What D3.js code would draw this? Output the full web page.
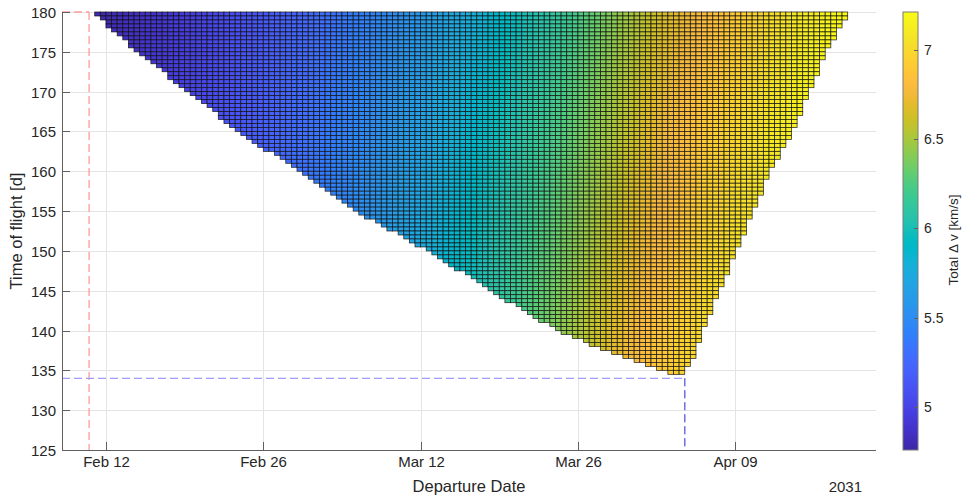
<!DOCTYPE html>
<html>
<head>
<meta charset="utf-8">
<script src="https://cdn.jsdelivr.net/npm/d3@7"></script>
<style>
  body { margin: 0; background: #fff; }
  text { font-family: "Liberation Sans", Arial, Helvetica, sans-serif; fill: #262626; }
</style>
</head>
<body>
<svg id="chart" width="963" height="499"></svg>
<script>
// ---- axes ----
const xDomain = ["2031-02-08T02:10", "2031-04-21T12:30"];
const xTickDates = ["2031-02-12", "2031-02-26", "2031-03-12", "2031-03-26", "2031-04-09"];
const xTickLabels = ["Feb 12", "Feb 26", "Mar 12", "Mar 26", "Apr 09"];
const yDomain = [125, 180];
const yTicks = [125, 130, 135, 140, 145, 150, 155, 160, 165, 170, 175, 180];
const cbDomain = [4.76, 7.21];
const cbTicks = [5, 5.5, 6, 6.5, 7];

// ---- porkchop grid: half-day departure steps, half-day time-of-flight steps ----
const gridStepDays = 0.5;
const tofTop = 180;
const tofBottom = 134.5;

// feasible window per row (keyed by the row's upper time of flight):
// first departure (cell start) and last departure (cell end)
const edgeTof   = [180, 175, 170, 165, 160, 155, 150, 145, 140, 137.5, 135];
const edgeFirst = ["2031-02-11T00", "2031-02-15T00", "2031-02-19T12", "2031-02-24T00", "2031-03-01T12",
                   "2031-03-06T12", "2031-03-13T00", "2031-03-18T12", "2031-03-24T12", "2031-03-29T00", "2031-04-03T00"];
const edgeLast  = ["2031-04-19T00", "2031-04-17T00", "2031-04-15T12", "2031-04-14T00", "2031-04-12T00",
                   "2031-04-10T12", "2031-04-09T00", "2031-04-07T12", "2031-04-06T00", "2031-04-05T12", "2031-04-04T12"];

// total delta-v [km/s] sampled over departure date (columns) and time of flight (rows)
const dvDeparture = ["2031-02-11", "2031-02-18", "2031-02-25", "2031-03-04", "2031-03-11", "2031-03-18", "2031-03-25",
                     "2031-03-29", "2031-04-02", "2031-04-06", "2031-04-10", "2031-04-14", "2031-04-19"];
const dvTof = [180, 165, 150, 135];
const dvTof180 = [4.78, 4.93, 5.12, 5.32, 5.55, 5.84, 6.17, 6.40, 6.62, 6.80, 6.93, 7.08, 7.21];
const dvTof165 = [4.82, 4.98, 5.17, 5.38, 5.62, 5.93, 6.28, 6.50, 6.72, 6.88, 7.01, 7.14, 7.22];
const dvTof150 = [4.86, 5.02, 5.22, 5.44, 5.70, 6.02, 6.38, 6.60, 6.80, 6.96, 7.08, 7.18, 7.22];
const dvTof135 = [4.90, 5.06, 5.27, 5.50, 5.78, 6.12, 6.48, 6.70, 6.88, 7.02, 7.14, 7.20, 7.22];

// guide lines to the two marked solutions
const markRed  = { dep: "2031-02-10T12", tof: 180 };
const markBlue = { dep: "2031-04-04T12", tof: 134 };

// parula colormap (64 entries)
const parula = [
[0.2422,0.1504,0.6603],[0.2504,0.1650,0.7076],[0.2578,0.1818,0.7511],[0.2647,0.1978,0.7952],
[0.2706,0.2147,0.8364],[0.2751,0.2342,0.8710],[0.2783,0.2559,0.8991],[0.2803,0.2782,0.9221],
[0.2813,0.3006,0.9414],[0.2810,0.3228,0.9579],[0.2795,0.3447,0.9717],[0.2760,0.3667,0.9829],
[0.2699,0.3892,0.9906],[0.2602,0.4123,0.9952],[0.2440,0.4358,0.9988],[0.2206,0.4603,0.9973],
[0.1963,0.4847,0.9892],[0.1834,0.5074,0.9798],[0.1786,0.5289,0.9682],[0.1764,0.5499,0.9520],
[0.1687,0.5703,0.9359],[0.1540,0.5902,0.9218],[0.1460,0.6091,0.9079],[0.1380,0.6276,0.8973],
[0.1248,0.6459,0.8883],[0.1113,0.6635,0.8763],[0.0952,0.6798,0.8598],[0.0689,0.6948,0.8394],
[0.0297,0.7082,0.8163],[0.0036,0.7203,0.7917],[0.0067,0.7312,0.7660],[0.0433,0.7411,0.7394],
[0.0964,0.7500,0.7120],[0.1408,0.7584,0.6842],[0.1717,0.7670,0.6554],[0.1938,0.7758,0.6251],
[0.2161,0.7843,0.5923],[0.2470,0.7918,0.5567],[0.2906,0.7973,0.5188],[0.3406,0.8008,0.4789],
[0.3909,0.8029,0.4354],[0.4456,0.8024,0.3909],[0.5044,0.7993,0.3480],[0.5616,0.7942,0.3045],
[0.6174,0.7876,0.2612],[0.6720,0.7793,0.2227],[0.7242,0.7698,0.1910],[0.7738,0.7598,0.1646],
[0.8203,0.7498,0.1535],[0.8634,0.7406,0.1596],[0.9035,0.7330,0.1774],[0.9393,0.7288,0.2100],
[0.9728,0.7298,0.2394],[0.9956,0.7434,0.2371],[0.9970,0.7659,0.2199],[0.9952,0.7893,0.2028],
[0.9892,0.8136,0.1885],[0.9786,0.8386,0.1766],[0.9676,0.8639,0.1643],[0.9610,0.8890,0.1537],
[0.9597,0.9135,0.1423],[0.9628,0.9373,0.1265],[0.9691,0.9606,0.1064],[0.9769,0.9839,0.0805]];

// ---- setup ----
const parseT = d3.utcParse("%Y-%m-%dT%H:%M");
const parseH = d3.utcParse("%Y-%m-%dT%H");
const parseD = d3.utcParse("%Y-%m-%d");
const toDate = s => parseT(s) || parseH(s) || parseD(s);
const DAY = 864e5;

const m = { left: 62, right: 876, top: 12, bottom: 450 };
const svg = d3.select("#chart");

const x = d3.scaleUtc().domain(xDomain.map(toDate)).range([m.left, m.right]);
const y = d3.scaleLinear().domain(yDomain).range([m.bottom, m.top]);

const parulaColors = parula.map(c => d3.rgb(c[0] * 255, c[1] * 255, c[2] * 255));
const color = d3.scaleLinear()
  .domain(parulaColors.map((_, i) => cbDomain[0] + (cbDomain[1] - cbDomain[0]) * i / (parulaColors.length - 1)))
  .range(parulaColors)
  .interpolate(d3.interpolateRgb)
  .clamp(true);

// ---- grid lines ----
const grid = svg.append("g").attr("stroke", "#e4e4e4").attr("stroke-width", 1);
xTickDates.forEach(d => {
  const px = Math.round(x(toDate(d))) + 0.5;
  grid.append("line").attr("x1", px).attr("x2", px).attr("y1", m.top).attr("y2", m.bottom);
});
yTicks.forEach(v => {
  const py = Math.round(y(v)) + 0.5;
  grid.append("line").attr("x1", m.left).attr("x2", m.right).attr("y1", py).attr("y2", py);
});

// ---- cells ----
const edgeFirstAt = d3.scaleLinear().domain(edgeTof).range(edgeFirst.map(s => +toDate(s)));
const edgeLastAt = d3.scaleLinear().domain(edgeTof).range(edgeLast.map(s => +toDate(s)));

const dvRows = [dvTof180, dvTof165, dvTof150, dvTof135];
const dvDepMs = dvDeparture.map(s => +toDate(s));
const colIdx = d3.scaleLinear().domain(dvDepMs).range(dvDepMs.map((_, i) => i)).clamp(true);
const rowIdx = d3.scaleLinear().domain(dvTof).range(dvTof.map((_, i) => i)).clamp(true);
function dvAt(ms, tof) {
  const ci = colIdx(ms), ri = rowIdx(tof);
  const c0 = Math.min(Math.floor(ci), dvDepMs.length - 2), r0 = Math.min(Math.floor(ri), dvTof.length - 2);
  const fc = ci - c0, fr = ri - r0;
  const a = dvRows[r0][c0] * (1 - fc) + dvRows[r0][c0 + 1] * fc;
  const b = dvRows[r0 + 1][c0] * (1 - fc) + dvRows[r0 + 1][c0 + 1] * fc;
  return a * (1 - fr) + b * fr;
}

const stepMs = gridStepDays * DAY;
const cells = [];
for (let tof = tofTop; tof > tofBottom + 1e-9; tof -= gridStepDays) {
  const lower = tof - gridStepDays;
  const first = Math.round(edgeFirstAt(tof) / stepMs) * stepMs;
  const last = Math.round(edgeLastAt(tof) / stepMs) * stepMs;
  for (let t = first; t < last - 1; t += stepMs) {
    cells.push({ t0: t, t1: t + stepMs, y0: lower, y1: tof, dv: dvAt(t + stepMs / 2, tof - gridStepDays / 2) });
  }
}

svg.append("g")
  .selectAll("rect")
  .data(cells)
  .join("rect")
  .attr("x", d => x(d.t0))
  .attr("y", d => y(d.y1))
  .attr("width", d => x(d.t1) - x(d.t0))
  .attr("height", d => y(d.y0) - y(d.y1))
  .attr("fill", d => color(d.dv))
  .attr("stroke", "#111")
  .attr("stroke-opacity", 0.85)
  .attr("stroke-width", 0.8);

// ---- guide lines ----
function guide(mk, stroke) {
  const px = x(toDate(mk.dep)), py = y(mk.tof);
  const g = svg.append("g").attr("fill", "none").attr("stroke", stroke)
    .attr("stroke-width", 1.3).attr("stroke-dasharray", "8,4");
  g.append("line").attr("x1", m.left).attr("x2", px).attr("y1", py).attr("y2", py);
  g.append("line").attr("x1", px).attr("x2", px).attr("y1", py).attr("y2", m.bottom);
  return g;
}
guide(markRed, "#ff9a9a");
guide(markBlue, "#9d9dff");
// lower vertical segment of the blue guide drawn stronger
{
  const px = x(toDate(markBlue.dep));
  svg.append("line").attr("x1", px).attr("x2", px).attr("y1", y(markBlue.tof)).attr("y2", m.bottom)
    .attr("stroke", "#6f6fe0").attr("stroke-width", 1.3).attr("stroke-dasharray", "8,4");
}

// ---- axes ----
const axisColor = "#606060";
const ax = svg.append("g");
ax.append("line").attr("x1", m.left + 0.5).attr("x2", m.left + 0.5).attr("y1", m.top).attr("y2", m.bottom + 0.5)
  .attr("stroke", axisColor);
ax.append("line").attr("x1", m.left).attr("x2", m.right).attr("y1", m.bottom + 0.5).attr("y2", m.bottom + 0.5)
  .attr("stroke", axisColor);

yTicks.forEach(v => {
  const py = Math.round(y(v)) + 0.5;
  ax.append("line").attr("x1", m.left).attr("x2", m.left + 8).attr("y1", py).attr("y2", py).attr("stroke", axisColor);
  ax.append("text").attr("x", m.left - 6).attr("y", py).attr("dy", "0.35em")
    .attr("text-anchor", "end").attr("font-size", 15).text(v);
});
xTickDates.forEach((d, i) => {
  const px = Math.round(x(toDate(d))) + 0.5;
  ax.append("line").attr("x1", px).attr("x2", px).attr("y1", m.bottom).attr("y2", m.bottom - 8).attr("stroke", axisColor);
  ax.append("text").attr("x", px).attr("y", 467).attr("text-anchor", "middle").attr("font-size", 15).text(xTickLabels[i]);
});
svg.append("text").attr("x", 469).attr("y", 492).attr("text-anchor", "middle").attr("font-size", 16.5).text("Departure Date");
svg.append("text").attr("x", 862).attr("y", 492).attr("text-anchor", "end").attr("font-size", 15).text("2031");
svg.append("text").attr("transform", "translate(22,231) rotate(-90)").attr("text-anchor", "middle")
  .attr("font-size", 16.5).text("Time of flight [d]");

// ---- colorbar ----
const cb = { x: 903, w: 15, top: 12, bottom: 450 };
const cy = d3.scaleLinear().domain(cbDomain).range([cb.bottom, cb.top]);
const defs = svg.append("defs");
const grad = defs.append("linearGradient").attr("id", "cbgrad").attr("x1", 0).attr("x2", 0).attr("y1", 1).attr("y2", 0);
parulaColors.forEach((c, i) => {
  grad.append("stop").attr("offset", i / (parulaColors.length - 1)).attr("stop-color", c);
});
svg.append("rect").attr("x", cb.x).attr("y", cb.top).attr("width", cb.w).attr("height", cb.bottom - cb.top)
  .attr("fill", "url(#cbgrad)").attr("stroke", "#7a7a7a").attr("stroke-width", 1);
cbTicks.forEach(v => {
  const py = Math.round(cy(v)) + 0.5;
  svg.append("line").attr("x1", cb.x + cb.w - 4).attr("x2", cb.x + cb.w).attr("y1", py).attr("y2", py)
    .attr("stroke", "#606060");
  svg.append("text").attr("x", cb.x + cb.w + 6).attr("y", py).attr("dy", "0.35em").attr("font-size", 14).text(v);
});
svg.append("text").attr("transform", "translate(961,240) rotate(-90)").attr("text-anchor", "middle")
  .attr("dy", "-0.2em").attr("font-size", 13.5).text("Total \u0394 v [km/s]");
</script>
</body>
</html>
